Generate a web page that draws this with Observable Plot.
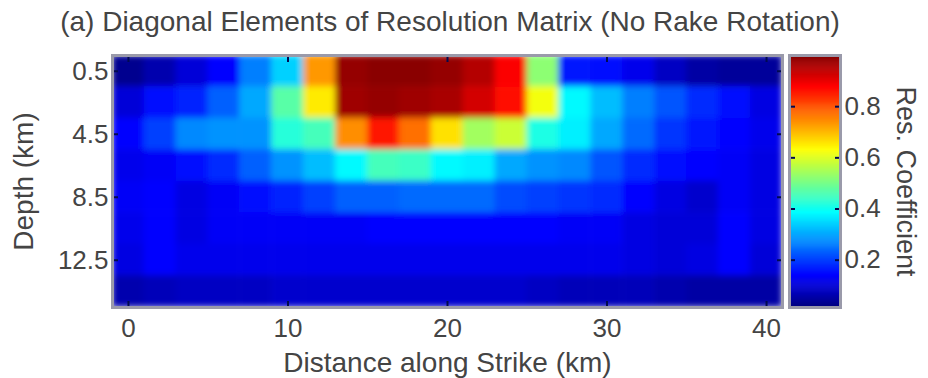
<!DOCTYPE html>
<html><head><meta charset="utf-8">
<script src="https://cdn.jsdelivr.net/npm/d3@7"></script>
<script src="https://cdn.jsdelivr.net/npm/@observablehq/plot@0.6"></script>
<style>
body{margin:0;background:#fff;font-family:"Liberation Sans",Arial,sans-serif;}
#wrap{width:928px;height:378px;position:relative;overflow:hidden;background:#fff}
#title{position:absolute;left:0;top:8px;width:900px;text-align:center;font-size:28px;line-height:28px;color:#444;white-space:nowrap}
#main{position:absolute;left:0;top:45px}
#cbar{position:absolute;left:786px;top:45px}
</style></head><body>
<div id="wrap">
  <div id="title">(a) Diagonal Elements of Resolution Matrix (No Rake Rotation)</div>
  <div id="main"></div>
  <div id="cbar"></div>
</div>
<script>
// Cell centres along strike (km) and depth (km)
const distances = [0,2,4,6,8,10,12,14,16,18,20,22,24,26,28,30,32,34,36,38,40];
const depths = [0.5,2.5,4.5,6.5,8.5,10.5,12.5,14.5];

// Diagonal resolution values, one array per depth row
const res_0_5  = [0.03,0.06,0.10,0.14,0.26,0.34,0.73,0.98,0.99,0.99,0.98,0.95,0.88,0.52,0.16,0.15,0.12,0.08,0.05,0.04,0.04];
const res_2_5  = [0.10,0.15,0.17,0.23,0.30,0.47,0.65,0.97,0.98,0.97,0.96,0.92,0.87,0.62,0.38,0.32,0.26,0.22,0.18,0.15,0.11];
const res_4_5  = [0.14,0.20,0.27,0.28,0.28,0.42,0.45,0.74,0.86,0.77,0.66,0.54,0.58,0.41,0.37,0.30,0.24,0.19,0.16,0.14,0.12];
const res_6_5  = [0.12,0.13,0.15,0.18,0.23,0.28,0.32,0.38,0.45,0.44,0.38,0.37,0.30,0.28,0.27,0.22,0.18,0.15,0.14,0.13,0.11];
const res_8_5  = [0.13,0.14,0.11,0.13,0.15,0.17,0.20,0.23,0.23,0.24,0.24,0.24,0.21,0.20,0.19,0.18,0.14,0.11,0.09,0.13,0.11];
const res_10_5 = [0.12,0.14,0.11,0.13,0.13,0.13,0.13,0.13,0.14,0.14,0.14,0.14,0.14,0.14,0.13,0.13,0.11,0.10,0.10,0.14,0.11];
const res_12_5 = [0.11,0.14,0.12,0.12,0.12,0.12,0.12,0.12,0.12,0.12,0.12,0.12,0.12,0.12,0.12,0.12,0.11,0.10,0.11,0.14,0.10];
const res_14_5 = [0.06,0.07,0.08,0.08,0.08,0.09,0.09,0.09,0.09,0.09,0.09,0.09,0.09,0.08,0.07,0.07,0.07,0.06,0.05,0.05,0.05];
const rows = [res_0_5,res_2_5,res_4_5,res_6_5,res_8_5,res_10_5,res_12_5,res_14_5];

// Tick labels
const xTicks = [0,10,20,30,40];
const yTicks = [0.5,4.5,8.5,12.5];
const cTicks = [0.2,0.4,0.6,0.8];
const colorDomain = [0.015, 1.0];
const jetStops = ["#000080","#0000ff","#0080ff","#00ffff","#80ff80","#ffff00","#ff8000","#ff0000","#800000"];

const jet = d3.piecewise(d3.interpolateRgb, jetStops);
const table = [];
depths.forEach((dep, i) => distances.forEach((x, j) => table.push({x, depth: dep, value: rows[i][j]})));
const dx = distances[1] - distances[0];
const dd = depths[1] - depths[0];

const textStyle = {fontFamily: "Liberation Sans, Arial, sans-serif", fontSize: "26px", color: "#444", background: "#fff", overflow: "visible"};
const colorOpts = {type: "linear", domain: colorDomain, interpolate: jet, clamp: true};
const tickStroke = "#000a50";

const main = Plot.plot({
  width: 786, height: 333,
  marginTop: 10, marginBottom: 71, marginLeft: 112, marginRight: 4,
  style: textStyle,
  x: {domain: [distances[0] - dx/2, distances[distances.length-1] + dx/2]},
  y: {domain: [depths[0] - dd/2, depths[depths.length-1] + dd/2], reverse: true},
  color: colorOpts,
  marks: [
    Plot.rect(table, {x1: d => d.x - dx/2, x2: d => d.x + dx/2, y1: d => d.depth - dd/2, y2: d => d.depth + dd/2, fill: "value", inset: -0.3, clip: true}),
    Plot.axisX(xTicks, {anchor: "bottom", tickSize: 0, tickPadding: 11, label: null, fontSize: 26}),
    Plot.axisX([], {anchor: "bottom", tickSize: 0, label: "Distance along Strike (km)", labelAnchor: "center", labelArrow: "none", labelOffset: 64, fontSize: 28}),
    Plot.axisY(yTicks, {anchor: "left", tickSize: 0, tickPadding: 4, tickFormat: d => d.toFixed(1), label: null, fontSize: 26}),
    Plot.axisY([], {anchor: "left", tickSize: 0, label: "Depth (km)", labelAnchor: "center", labelArrow: "none", labelOffset: 99, fontSize: 28}),
    Plot.axisX(xTicks, {anchor: "bottom", tickSize: 5, dy: -6, tickFormat: () => "", label: null, stroke: tickStroke, strokeWidth: 2}),
    Plot.axisX(xTicks, {anchor: "top", tickSize: 5, dy: 6, tickFormat: () => "", label: null, stroke: tickStroke, strokeWidth: 2}),
    Plot.axisY(yTicks, {anchor: "left", tickSize: 5, dx: 6, tickFormat: () => "", label: null, stroke: tickStroke, strokeWidth: 2}),
    Plot.axisY(yTicks, {anchor: "right", tickSize: 5, dx: -6, tickFormat: () => "", label: null, stroke: tickStroke, strokeWidth: 2}),
    Plot.frame({stroke: "#9a9aaa", strokeWidth: 3})
  ]
});
// soften the cell edges like the reference image
{
  const ns = "http://www.w3.org/2000/svg";
  const defs = document.createElementNS(ns, "defs");
  defs.innerHTML = '<filter id="soft" x="0" y="0" width="1" height="1"><feGaussianBlur stdDeviation="3" edgeMode="duplicate"/></filter>';
  main.insertBefore(defs, main.firstChild);
  const g = main.querySelector('g[aria-label="rect"]');
  if (g) {
    const inner = document.createElementNS(ns, "g");
    inner.setAttribute("filter", "url(#soft)");
    while (g.firstChild) inner.appendChild(g.firstChild);
    g.appendChild(inner);
  }
}
document.getElementById("main").append(main);

const step = 0.004;
const ramp = d3.range(colorDomain[0], colorDomain[1], step);
const cbar = Plot.plot({
  width: 142, height: 333,
  marginTop: 10, marginBottom: 71, marginLeft: 3, marginRight: 88,
  style: textStyle,
  x: {domain: [0, 1], axis: null},
  y: {domain: colorDomain},
  color: colorOpts,
  marks: [
    Plot.rect(ramp, {x1: 0, x2: 1, y1: d => d, y2: d => Math.min(d + step, colorDomain[1]), fill: d => d, inset: -0.3}),
    Plot.axisY(cTicks, {anchor: "right", tickSize: 0, tickPadding: 4, label: null, fontSize: 26}),
    Plot.axisY(cTicks, {anchor: "right", tickSize: 5, dx: -6, tickFormat: () => "", label: null, stroke: tickStroke, strokeWidth: 2}),
    Plot.axisY(cTicks, {anchor: "left", tickSize: 5, dx: 6, tickFormat: () => "", label: null, stroke: tickStroke, strokeWidth: 2}),
    Plot.text(["Res. Coefficient"], {text: d => d, frameAnchor: "right", dx: 65, rotate: 90, textAnchor: "middle", fontSize: 27, fill: "#444"}),
    Plot.frame({stroke: "#9a9aaa", strokeWidth: 3})
  ]
});
document.getElementById("cbar").append(cbar);
</script>
</body></html>
